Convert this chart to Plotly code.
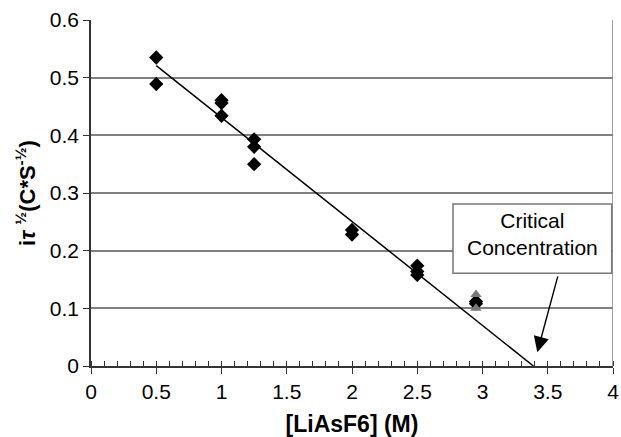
import plotly.graph_objects as go

# Data
x_black = [0.5, 0.5, 1.0, 1.0, 1.0, 1.25, 1.25, 1.25, 2.0, 2.0, 2.5, 2.5, 2.5, 2.95, 2.95]
y_black = [0.535, 0.489, 0.461, 0.456, 0.434, 0.393, 0.380, 0.350, 0.236, 0.228, 0.174, 0.164, 0.158, 0.112, 0.108]
x_gray = [2.95, 2.95]
y_gray = [0.124, 0.100]
fit_x = [0.5, 3.39]
fit_y = [0.521, 0.0]

x_ticks = [0, 0.5, 1, 1.5, 2, 2.5, 3, 3.5, 4]
y_ticks = [0, 0.1, 0.2, 0.3, 0.4, 0.5, 0.6]

FONT = "Liberation Sans, Arial, sans-serif"

fig = go.Figure()
fig.add_trace(go.Scatter(x=fit_x, y=fit_y, mode="lines",
                         line=dict(color="black", width=1.5), showlegend=False))
fig.add_trace(go.Scatter(x=x_black, y=y_black, mode="markers",
                         marker=dict(symbol="diamond", size=11, color="black"),
                         showlegend=False))
fig.add_trace(go.Scatter(x=x_gray, y=y_gray, mode="markers",
                         marker=dict(symbol="triangle-up", size=10, color="#7a7a7a"),
                         showlegend=False))

# Right border of plot area
fig.add_shape(type="line", xref="x", yref="y", x0=4, x1=4, y0=0, y1=0.6,
              line=dict(color="#808080", width=1.5))

# Annotation box
fig.add_shape(type="rect", xref="x", yref="y", x0=2.774, x1=3.99, y0=0.161, y1=0.281,
              line=dict(color="#777777", width=1.5), fillcolor="white", layer="above")
fig.add_annotation(x=3.382, y=0.2296, xref="x", yref="y", showarrow=False,
                   text="Critical<br>Concentration",
                   font=dict(family=FONT, size=21, color="black"))
fig.add_annotation(x=3.42, y=0.024, ax=3.58, ay=0.158, xref="x", yref="y",
                   axref="x", ayref="y", text="", showarrow=True,
                   arrowhead=2, arrowsize=2.2, arrowwidth=1.4, arrowcolor="black")

fig.update_layout(
    width=621, height=437,
    margin=dict(l=91, r=8, t=20, b=71),
    paper_bgcolor="white", plot_bgcolor="white",
    font=dict(family=FONT, size=21, color="black"),
    xaxis=dict(range=[0, 4], tickvals=x_ticks, ticktext=[str(v) for v in x_ticks],
               automargin=False,
               showgrid=False, zeroline=False, showline=True, linecolor="#333333", linewidth=1.5,
               ticks="outside", ticklen=6, tickcolor="#333333",
               tickfont=dict(size=21),
               minor=dict(ticks="inside", dtick=0.1, ticklen=5, tickcolor="#333333", showgrid=False),
               title=dict(text="<b>[LiAsF6] (M)</b>", font=dict(size=23), standoff=14)),
    yaxis=dict(range=[0, 0.6], tickvals=y_ticks, ticktext=[str(v) for v in y_ticks],
               automargin=False,
               showgrid=True, gridcolor="#808080", gridwidth=1.5, zeroline=False,
               showline=True, linecolor="#333333", linewidth=1.5,
               ticks="outside", ticklen=6, tickcolor="#333333",
               tickfont=dict(size=21),
               title=dict(text="<b>i<i>τ</i> <sup>½</sup>(C*S<sup>-½</sup>)</b>", font=dict(size=22), standoff=8)),
)

fig.write_html("out.html")
